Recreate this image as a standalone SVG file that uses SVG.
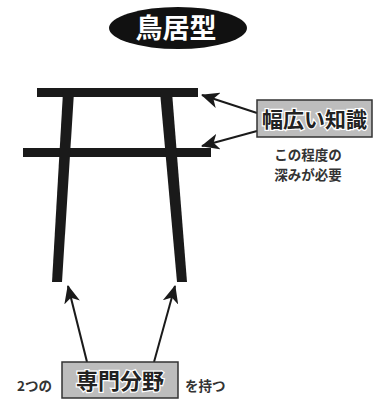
<svg xmlns="http://www.w3.org/2000/svg" width="376" height="400" viewBox="0 0 376 400">
<style>
.bar{fill:#1a1a1a}
.cn{stroke:#1a1a1a;stroke-width:2;fill:none;marker-end:url(#ah)}
.box{fill:#bdbdbd;stroke:#333;stroke-width:1.5}
.bt{font-family:"Noto Sans CJK JP",sans-serif;font-weight:bold;fill:#222;stroke:#fff;stroke-width:2.5;paint-order:stroke;text-anchor:middle}
.sm{font-family:"Noto Sans CJK JP",sans-serif;font-weight:bold;fill:#333;font-size:13.5px}
</style>
<defs>
<marker id="ah" viewBox="0 0 18 16" refX="17" refY="8" markerWidth="18" markerHeight="16" markerUnits="userSpaceOnUse" orient="auto">
<path d="M0,0 L18,8 L0,16 L5,8 Z" fill="#1a1a1a"/>
</marker>
</defs>
<rect width="376" height="400" fill="#fff"/>
<g id="title">
<ellipse cx="178" cy="28" rx="69" ry="21" fill="#111"/>
<text x="176" y="38" font-family="Noto Sans CJK JP,sans-serif" font-weight="bold" font-size="27" fill="#fff" text-anchor="middle">鳥居型</text>
</g>
<g id="torii">
<rect class="bar" x="37" y="88" width="161" height="9"/>
<rect class="bar" x="23" y="148" width="188" height="9"/>
<polygon class="bar" points="63,92 74,92 62,282 52,282"/>
<polygon class="bar" points="160,92 172,92 187,282 177,282"/>
</g>
<g id="connectors">
<line class="cn" x1="257" y1="113" x2="202" y2="95"/>
<line class="cn" x1="257" y1="131" x2="202" y2="146"/>
<line class="cn" x1="87" y1="362" x2="68" y2="286"/>
<line class="cn" x1="154" y1="362" x2="175" y2="286"/>
</g>
<g id="knowledge">
<rect class="box" x="257" y="100" width="115" height="37"/>
<text class="bt" x="314.5" y="126.5" font-size="21">幅広い知識</text>
</g>
<g id="depth-note">
<text class="sm" x="308" y="160" text-anchor="middle">この程度の</text>
<text class="sm" x="308" y="180" text-anchor="middle">深みが必要</text>
</g>
<g id="specialty">
<rect class="box" x="62" y="362" width="116" height="36"/>
<text class="bt" x="120" y="388.5" font-size="22">専門分野</text>
<text class="sm" x="17" y="391">2つの</text>
<text class="sm" x="185" y="391">を持つ</text>
</g>
</svg>
